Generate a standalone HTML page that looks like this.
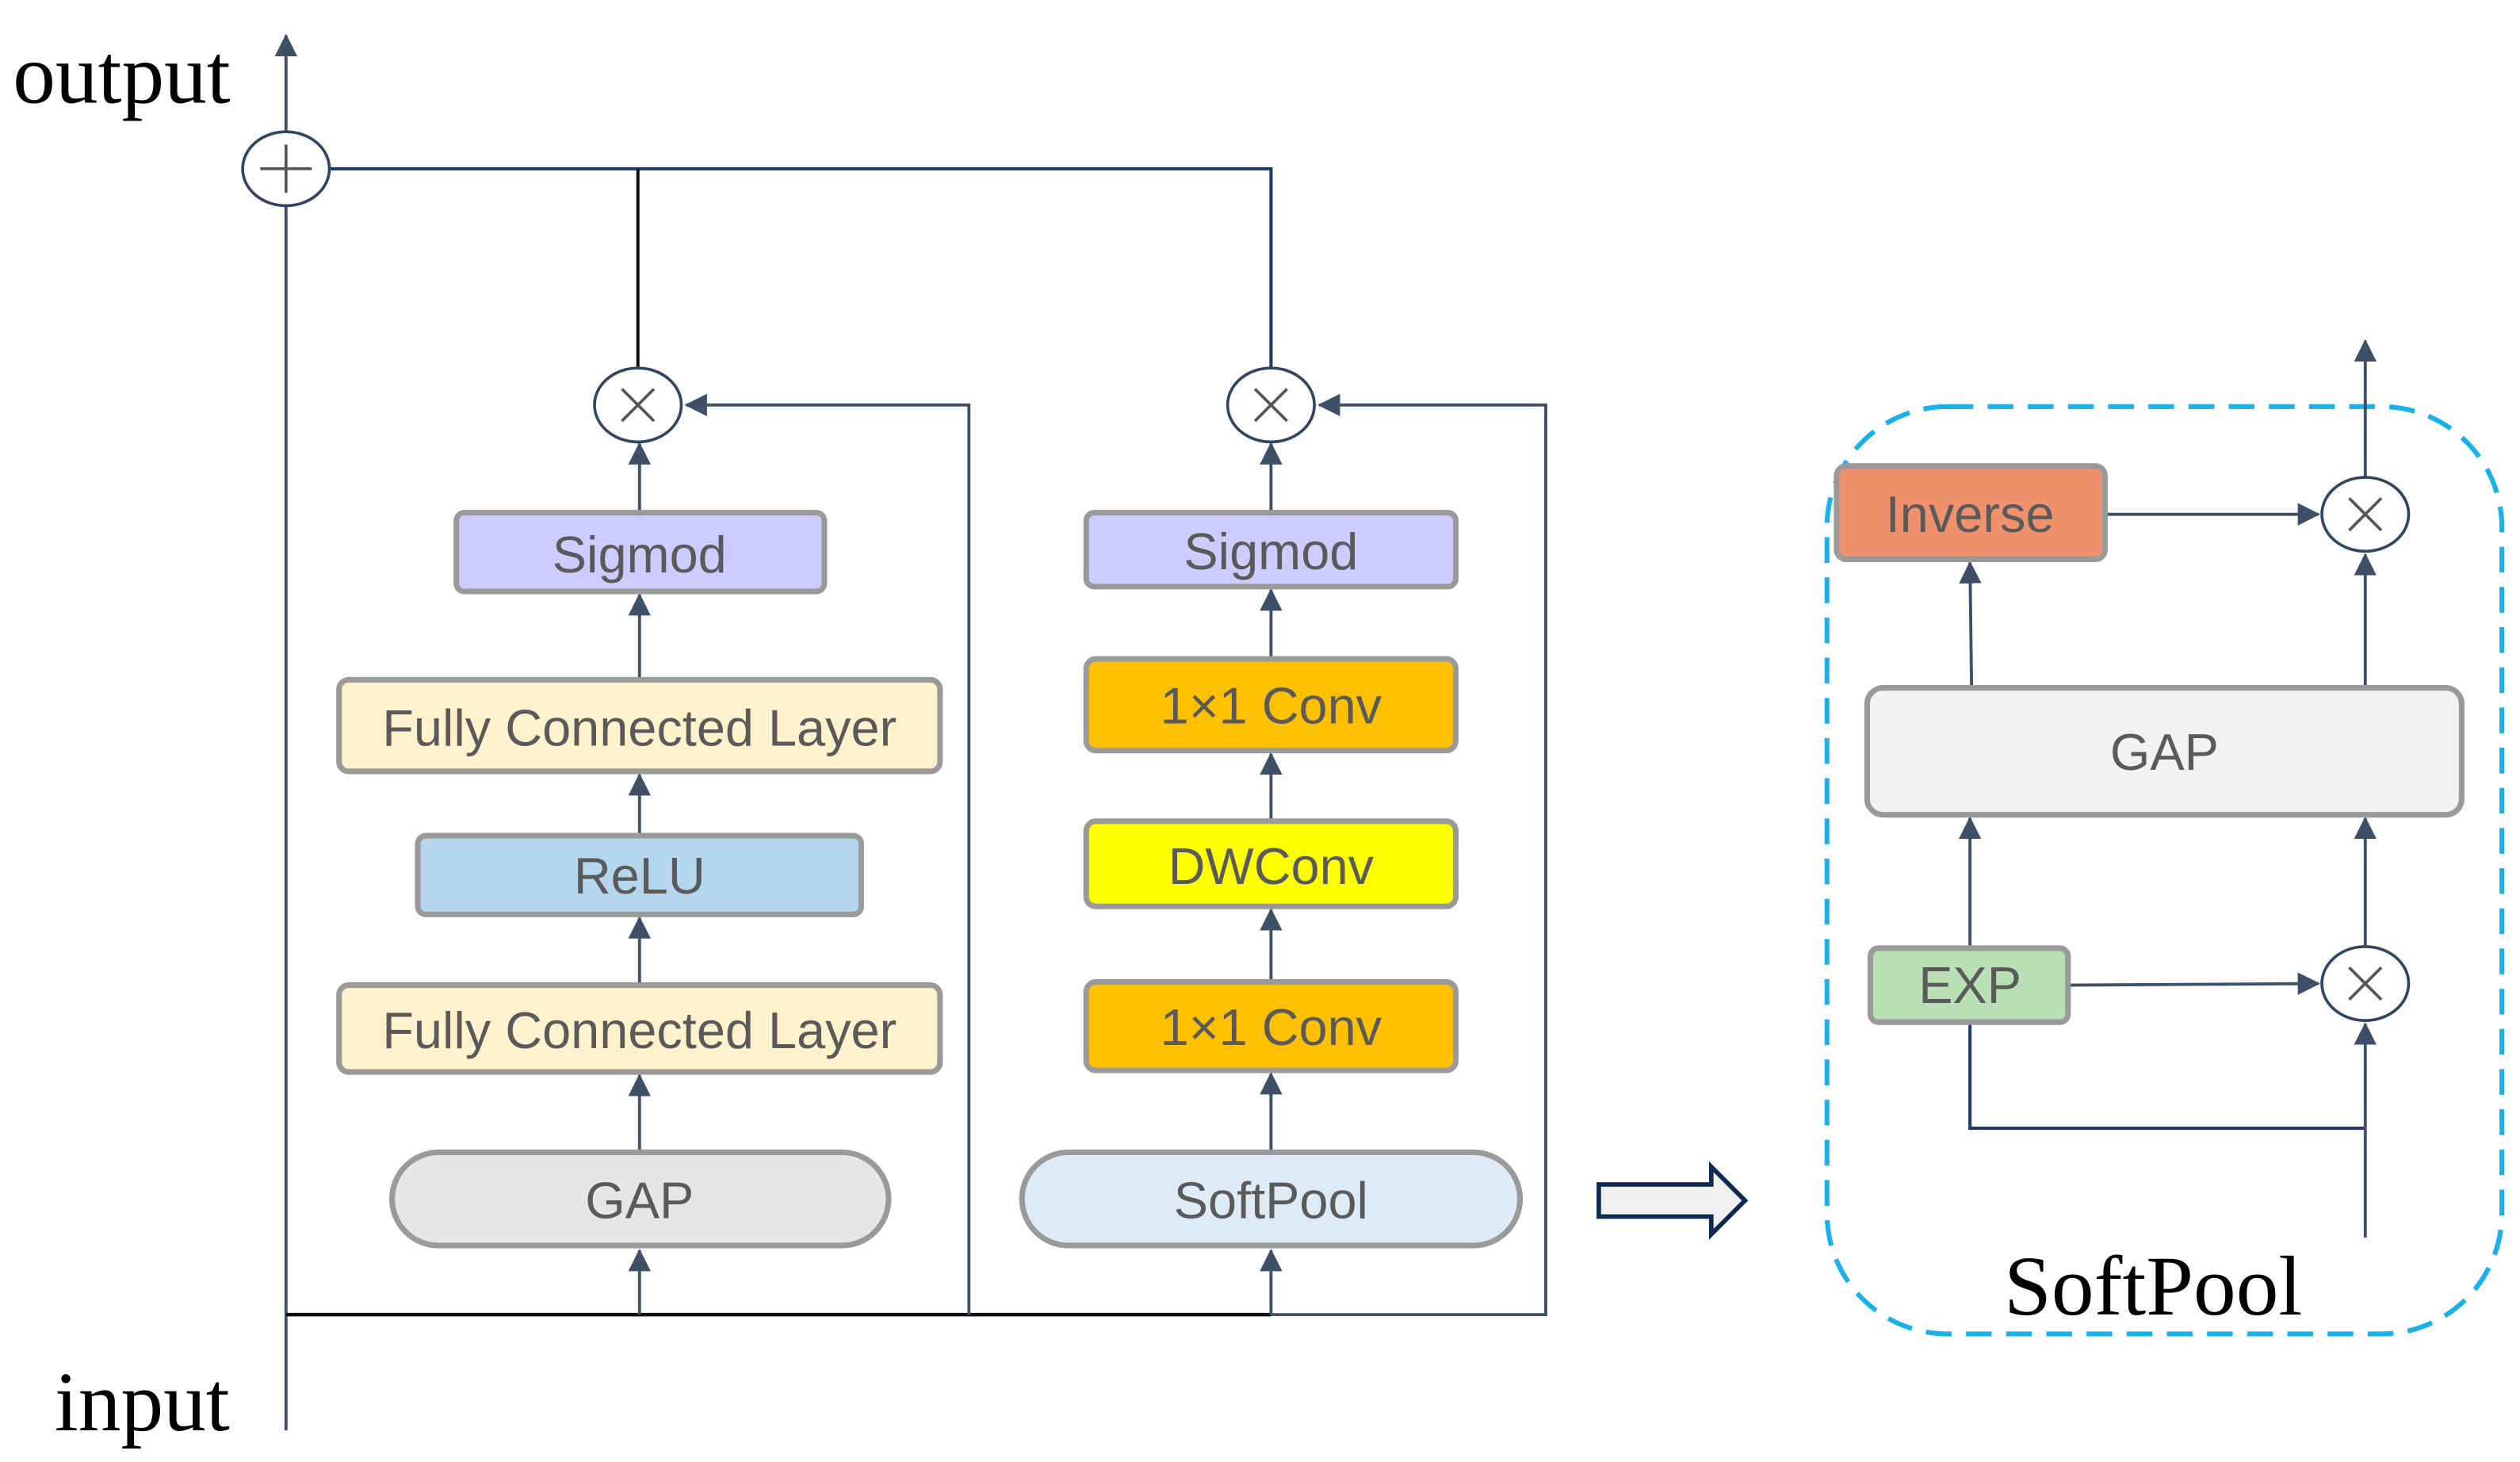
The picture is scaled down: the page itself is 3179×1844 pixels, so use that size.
<!DOCTYPE html>
<html><head><meta charset="utf-8"><style>
html,body{margin:0;padding:0;background:#fff;}
svg{display:block;}
.b{stroke:#9a9a9a;stroke-width:3.5;}
.t{font-family:"Liberation Sans",sans-serif;font-size:32px;fill:#5a5a5a;text-anchor:middle;dominant-baseline:central;}
.s{font-family:"Liberation Serif",serif;font-size:53px;fill:#000;}
.l{stroke:#3d5068;stroke-width:1.9;fill:none;}
.c{fill:#fff;stroke:#2f4560;stroke-width:1.8;}
.x{stroke:#555;stroke-width:1.8;}
</style></head><body>
<svg width="3179" height="1844" viewBox="0 0 1568.3 909.7" xmlns="http://www.w3.org/2000/svg">
<defs>
<marker id="ar" markerWidth="14" markerHeight="14" refX="13" refY="7" orient="auto" markerUnits="userSpaceOnUse" viewBox="0 0 14 14"><path d="M0,0 L14,7 L0,14 z" fill="#3d5068"/></marker></defs>

<text class="s" x="8" y="64">output</text>
<text class="s" x="34" y="890">input</text>

<line class="l" x1="178" y1="890" x2="178" y2="22" marker-end="url(#ar)"/>
<polyline points="205,105 791,105 791,230" fill="none" stroke="#1a3a70" stroke-width="2"/>
<line x1="397" y1="105" x2="397" y2="230" stroke="#111" stroke-width="2"/>
<line x1="178" y1="818" x2="791" y2="818" stroke="#111" stroke-width="2.2"/>
<polyline class="l" points="791,818 962,818 962,252 821,252" marker-end="url(#ar)"/>
<polyline class="l" points="603,818 603,252 427,252" marker-end="url(#ar)"/>

<line class="l" x1="398" y1="818" x2="398" y2="778" marker-end="url(#ar)"/>
<line class="l" x1="398" y1="717" x2="398" y2="669" marker-end="url(#ar)"/>
<line class="l" x1="398" y1="613" x2="398" y2="571" marker-end="url(#ar)"/>
<line class="l" x1="398" y1="520" x2="398" y2="482" marker-end="url(#ar)"/>
<line class="l" x1="398" y1="423" x2="398" y2="370" marker-end="url(#ar)"/>
<line class="l" x1="398" y1="319" x2="398" y2="276" marker-end="url(#ar)"/>
<line class="l" x1="791" y1="818" x2="791" y2="778" marker-end="url(#ar)"/>
<line class="l" x1="791" y1="717" x2="791" y2="668" marker-end="url(#ar)"/>
<line class="l" x1="791" y1="611" x2="791" y2="566" marker-end="url(#ar)"/>
<line class="l" x1="791" y1="511" x2="791" y2="469" marker-end="url(#ar)"/>
<line class="l" x1="791" y1="410" x2="791" y2="367" marker-end="url(#ar)"/>
<line class="l" x1="791" y1="319" x2="791" y2="276" marker-end="url(#ar)"/>

<ellipse class="c" cx="178" cy="105" rx="27" ry="23"/>
<line class="x" x1="162" y1="105" x2="194" y2="105"/><line class="x" x1="178" y1="90" x2="178" y2="120"/>
<ellipse class="c" cx="397" cy="252" rx="27" ry="23"/>
<line class="x" x1="387" y1="242" x2="407" y2="262"/><line class="x" x1="407" y1="242" x2="387" y2="262"/>
<ellipse class="c" cx="791" cy="252" rx="27" ry="23"/>
<line class="x" x1="781" y1="242" x2="801" y2="262"/><line class="x" x1="801" y1="242" x2="781" y2="262"/>

<rect class="b" x="284" y="319" width="229" height="49" rx="5" fill="#ccccff"/><text class="t" x="398" y="345">Sigmod</text>
<rect class="b" x="211" y="423" width="374" height="57" rx="6" fill="#fff2cc"/><text class="t" x="398" y="453">Fully Connected Layer</text>
<rect class="b" x="260" y="520" width="276" height="49" rx="5" fill="#b4d7ee"/><text class="t" x="398" y="545">ReLU</text>
<rect class="b" x="211" y="613" width="374" height="54" rx="6" fill="#fff2cc"/><text class="t" x="398" y="641">Fully Connected Layer</text>
<rect class="b" x="244" y="717" width="309" height="58" rx="29" fill="#e6e6e6"/><text class="t" x="398" y="747">GAP</text>
<rect class="b" x="676" y="319" width="230" height="46" rx="5" fill="#ccccff"/><text class="t" x="791" y="343">Sigmod</text>
<rect class="b" x="676" y="410" width="230" height="57" rx="6" fill="#ffc000"/><text class="t" x="791" y="439">1×1 Conv</text>
<rect class="b" x="676" y="511" width="230" height="53" rx="6" fill="#ffff00"/><text class="t" x="791" y="539">DWConv</text>
<rect class="b" x="676" y="611" width="230" height="55" rx="6" fill="#ffc000"/><text class="t" x="791" y="639">1×1 Conv</text>
<rect class="b" x="636" y="717" width="310" height="58" rx="29" fill="#ddebf7"/><text class="t" x="791" y="747">SoftPool</text>

<path d="M995,737 L1065,737 L1065,726 L1086,747 L1065,768 L1065,757 L995,757 z" fill="#f0f0f0" stroke="#0f2a50" stroke-width="2.8"/>

<rect x="1137" y="253" width="420" height="577" rx="75" fill="none" stroke="#1ab0e8" stroke-width="3" stroke-dasharray="16,9"/>

<line class="l" x1="1472" y1="297" x2="1472" y2="212" marker-end="url(#ar)"/>
<line class="l" x1="1310" y1="320" x2="1443" y2="320" marker-end="url(#ar)"/>
<line class="l" x1="1227" y1="428" x2="1226" y2="350" marker-end="url(#ar)"/>
<line class="l" x1="1472" y1="428" x2="1472" y2="345" marker-end="url(#ar)"/>
<line class="l" x1="1226" y1="590" x2="1226" y2="509" marker-end="url(#ar)"/>
<line class="l" x1="1472" y1="590" x2="1472" y2="509" marker-end="url(#ar)"/>
<line class="l" x1="1287" y1="613" x2="1443" y2="612" marker-end="url(#ar)"/>
<polyline points="1226,636 1226,702 1472,702" fill="none" stroke="#1a3a70" stroke-width="2"/>
<line class="l" x1="1472" y1="770" x2="1472" y2="637" marker-end="url(#ar)"/>

<ellipse class="c" cx="1472" cy="320" rx="27" ry="23"/>
<line class="x" x1="1462" y1="310" x2="1482" y2="330"/><line class="x" x1="1482" y1="310" x2="1462" y2="330"/>
<ellipse class="c" cx="1472" cy="612" rx="27" ry="23"/>
<line class="x" x1="1462" y1="602" x2="1482" y2="622"/><line class="x" x1="1482" y1="602" x2="1462" y2="622"/>

<rect class="b" x="1143" y="290" width="167" height="58" rx="6" fill="#f0916e"/><text class="t" x="1226" y="320">Inverse</text>
<rect class="b" x="1162" y="428" width="370" height="79" rx="10" fill="#f2f2f2"/><text class="t" x="1347" y="468">GAP</text>
<rect class="b" x="1164" y="590" width="123" height="46" rx="5" fill="#b9e0b4"/><text class="t" x="1226" y="613">EXP</text>

<text class="s" x="1340" y="818" text-anchor="middle">SoftPool</text>
</svg>
</body></html>
